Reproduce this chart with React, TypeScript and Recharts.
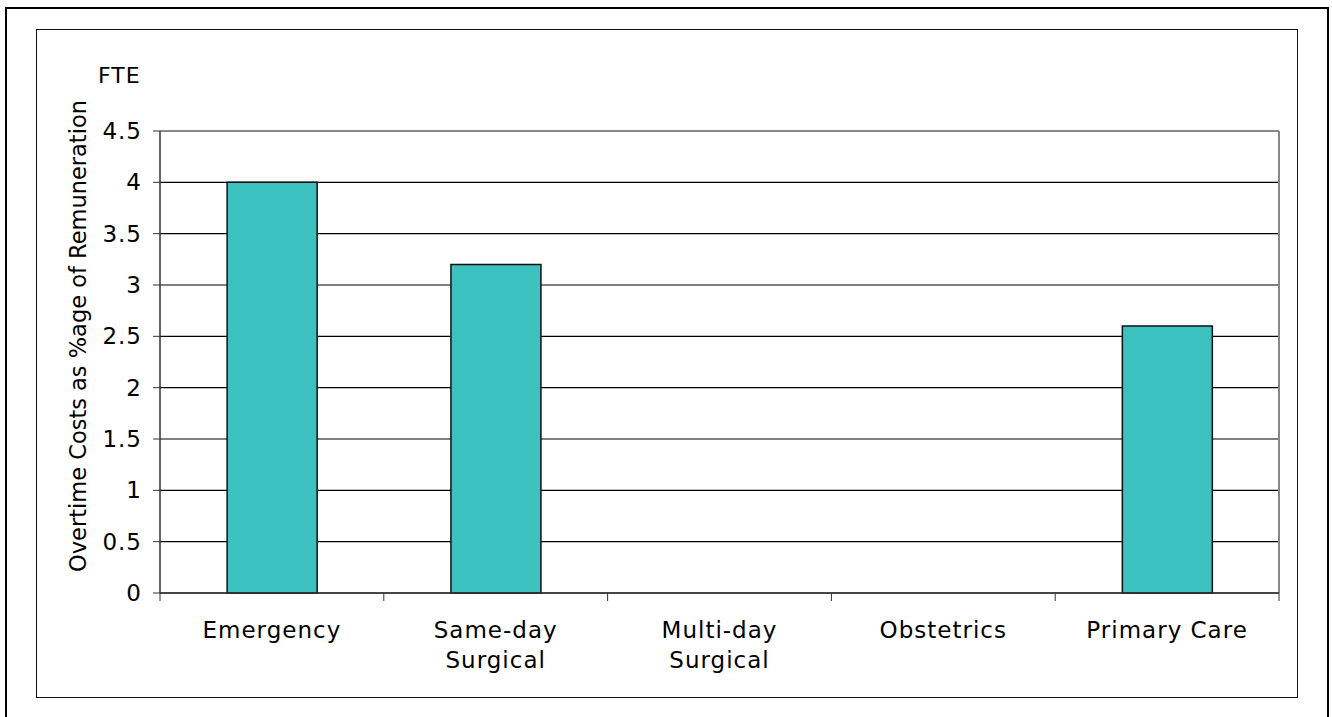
import { BarChart, Bar, XAxis, YAxis, CartesianGrid, ReferenceLine } from 'recharts'

const categories = ['Emergency', 'Same-day\nSurgical', 'Multi-day\nSurgical', 'Obstetrics', 'Primary Care']
const overtimeFte = [4.0, 3.2, 0, 0, 2.6]
const yTicks = [0, 0.5, 1, 1.5, 2, 2.5, 3, 3.5, 4, 4.5]

const rows = categories.map((name, i) => ({ name, value: overtimeFte[i] }))

const FONT = '"DejaVu Sans", Verdana, sans-serif'

function CategoryTick(props: any) {
  const { x, y, payload, index, visibleTicksCount } = props
  const half = payload.offset ?? 0
  const lines = String(payload.value).split('\n')
  const last = index === visibleTicksCount - 1
  return (
    <g>
      <line x1={x - half} x2={x - half} y1={y} y2={y + 8} stroke="#333" strokeWidth={1} />
      {last && <line x1={x + half} x2={x + half} y1={y} y2={y + 8} stroke="#333" strokeWidth={1} />}
      <text x={x} y={y + 45} textAnchor="middle" fill="#000" fontSize={23} letterSpacing={1} fontFamily={FONT}>
        {lines.map((l, i) => (
          <tspan key={i} x={x} dy={i === 0 ? 0 : 30}>{l}</tspan>
        ))}
      </text>
    </g>
  )
}

export default function App() {
  return (
    <div style={{ position: 'absolute', left: 0, top: 0, width: 1332, height: 717, background: '#fff', overflow: 'hidden', fontFamily: FONT }}>
      <div style={{ position: 'absolute', left: 5, top: 7, width: 1320, height: 730, border: '2px solid #000' }} />
      <div style={{ position: 'absolute', left: 36, top: 29, width: 1260, height: 667, border: '1.5px solid #111' }} />

      <div style={{ position: 'absolute', left: 0, top: 0 }}>
        <BarChart width={1332} height={717} data={rows} margin={{ top: 131, right: 53, left: 100, bottom: 64 }} barCategoryGap="30%">
          <CartesianGrid vertical={false} stroke="#000" strokeWidth={1.2} />
          <CartesianGrid
            horizontal={false}
            stroke="#888"
            strokeWidth={2}
            verticalCoordinatesGenerator={({ offset }: any) => [offset.left + offset.width]}
          />
          <ReferenceLine y={4.5} stroke="#888" strokeWidth={2} />
          <XAxis
            dataKey="name"
            height={60}
            tickLine={false}
            tickSize={0}
            tickMargin={0}
            axisLine={{ stroke: '#333', strokeWidth: 1.5 }}
            tick={<CategoryTick />}
            interval={0}
          />
          <YAxis
            width={60}
            domain={[0, 4.5]}
            ticks={yTicks}
            tickSize={7}
            tickMargin={11}
            axisLine={{ stroke: '#333', strokeWidth: 1.5 }}
            tickLine={{ stroke: '#333' }}
            tick={{ fill: '#000', fontSize: 23, letterSpacing: 1, fontFamily: FONT }}
            interval={0}
          />
          <Bar dataKey="value" fill="#3CC0C0" stroke="#111" strokeWidth={1.5} isAnimationActive={false} />
        </BarChart>
      </div>

      <svg width={1332} height={717} style={{ position: 'absolute', left: 0, top: 0, pointerEvents: 'none' }}>
        <text x={98} y={83} fontSize={22} fontFamily={FONT} fill="#000" letterSpacing={1}>FTE</text>
        <text
          x={0}
          y={0}
          transform="translate(86 336) rotate(-90)"
          textAnchor="middle"
          fontSize={22.5}
          fontFamily={FONT}
          fill="#000"
        >
          Overtime Costs as %age of Remuneration
        </text>
      </svg>
    </div>
  )
}
